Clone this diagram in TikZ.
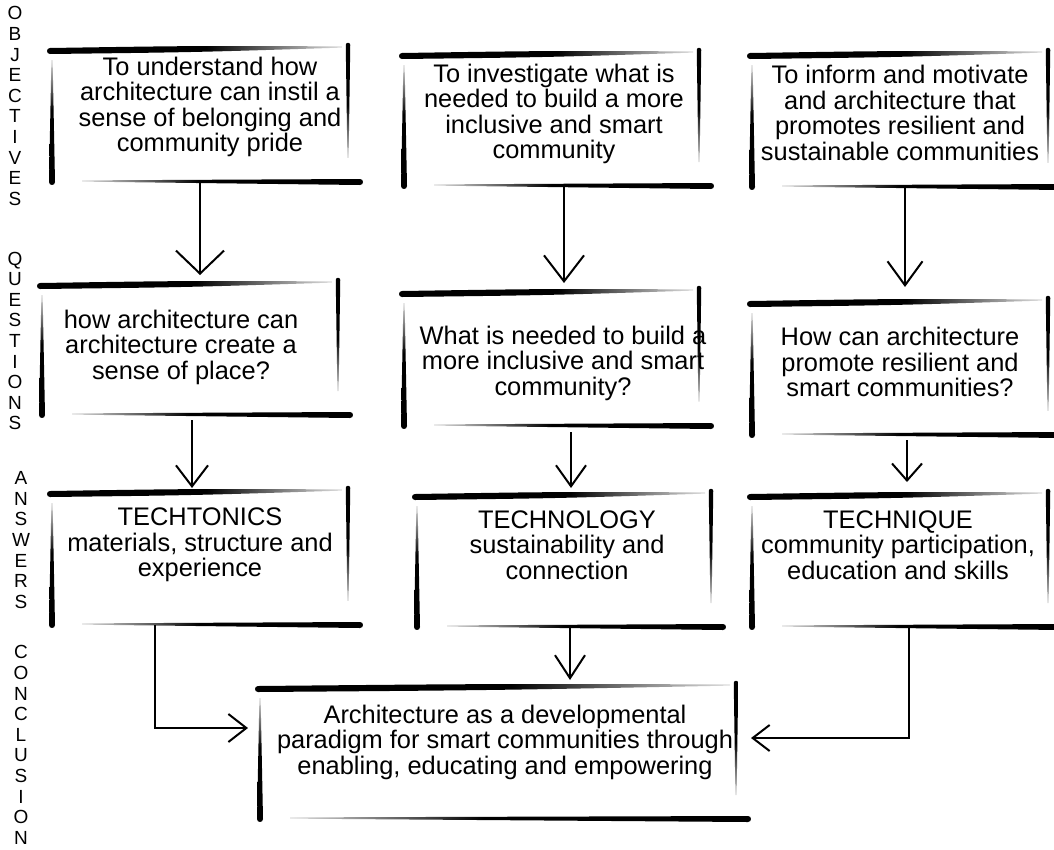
\documentclass[tikz,border=0pt]{standalone}
\usepackage{fontspec}
\setmainfont{Liberation Sans}
\usetikzlibrary{arrows.meta,calc}

\pgfdeclarehorizontalshading{fadeR}{100bp}{color(0bp)=(black); color(25bp)=(black); color(52bp)=(black); color(75bp)=(black!12); color(100bp)=(black!12)}
\pgfdeclarehorizontalshading{fadeL}{100bp}{color(0bp)=(black!12); color(25bp)=(black!12); color(46bp)=(black); color(75bp)=(black); color(100bp)=(black)}
\pgfdeclareverticalshading{fadeB}{100bp}{color(0bp)=(black!12); color(25bp)=(black!12); color(48bp)=(black); color(75bp)=(black); color(100bp)=(black)}
\pgfdeclareverticalshading{fadeT}{100bp}{color(0bp)=(black); color(25bp)=(black); color(55bp)=(black); color(75bp)=(black!12); color(100bp)=(black!12)}

% horizontal brush stroke: x1,y1,x2,y2,w1,wc,w2,shading
\newcommand{\hbr}[8]{%
 \shade[shading=#8]
  ({#1},{#2-(#5)/2})
  .. controls ({(#1+#3)/2},{(#2+#4)/2-(#6)/2}) .. ({#3},{#4-(#7)/2})
  .. controls ({#3+0.66*(#7)},{#4-(#7)/2}) and ({#3+0.66*(#7)},{#4+(#7)/2}) .. ({#3},{#4+(#7)/2})
  .. controls ({(#1+#3)/2},{(#2+#4)/2+(#6)/2}) .. ({#1},{#2+(#5)/2})
  .. controls ({#1-0.66*(#5)},{#2+(#5)/2}) and ({#1-0.66*(#5)},{#2-(#5)/2}) .. ({#1},{#2-(#5)/2}) -- cycle;}
% vertical brush stroke: x1,y1,x2,y2,w1,wc,w2,shading
\newcommand{\vbr}[8]{%
 \shade[shading=#8]
  ({#1-(#5)/2},{#2})
  .. controls ({(#1+#3)/2-(#6)/2},{(#2+#4)/2}) .. ({#3-(#7)/2},{#4})
  .. controls ({#3-(#7)/2},{#4+0.66*(#7)}) and ({#3+(#7)/2},{#4+0.66*(#7)}) .. ({#3+(#7)/2},{#4})
  .. controls ({(#1+#3)/2+(#6)/2},{(#2+#4)/2}) .. ({#1+(#5)/2},{#2})
  .. controls ({#1+(#5)/2},{#2-0.66*(#5)}) and ({#1-(#5)/2},{#2-0.66*(#5)}) .. ({#1-(#5)/2},{#2}) -- cycle;}
% sketched box: name, L, T, R, B
\newcommand{\skbox}[5]{%
 \node[boxnode, minimum width={#4-#2}, minimum height={#5-#3}] (#1) at ({(#2+#4)/2},{(#3+#5)/2}) {};
 \hbr{#2-2}{#3+3}{#4-6}{#3-1}{6}{6.5}{1.2}{fadeR}
 \vbr{#4}{#3-3}{#4}{#3+0.82*(#5-#3)}{4.5}{4.5}{1.2}{fadeB}
 \vbr{#2}{#3+12}{#2}{#5}{1.2}{5}{6}{fadeT}
 \hbr{#2+30}{#5-1}{#4+12}{#5}{1.2}{5}{6}{fadeL}
}

\begin{document}
\begin{tikzpicture}[x=1pt,y=-1pt,
  boxnode/.style={rectangle, draw=none, inner sep=0pt, outer sep=0pt},
  txt/.style={align=center, inner sep=0pt, font=\fontsize{25.4}{25.5}\selectfont},
  side/.style={align=center, inner sep=0pt, font=\fontsize{19}{20.6}\selectfont},
  conn/.style={line width=2pt, black}]
\fill[white] (0,0) rectangle (1054,849);
\useasboundingbox (0,0) rectangle (1054,849);

% side labels
\node[side] (lobj) at (15,106) {O\\B\\J\\E\\C\\T\\I\\V\\E\\S};
\node[side] (lque) at (15,341) {Q\\U\\E\\S\\T\\I\\O\\N\\S};
\node[side] (lans) at (21,540) {A\\N\\S\\W\\E\\R\\S};
\node[side] (lcon) at (21,745) {C\\O\\N\\C\\L\\U\\S\\I\\O\\N};

% boxes
\skbox{o1}{52}{48}{348}{182}
\skbox{o2}{404}{53}{699}{186}
\skbox{o3}{752}{53}{1048}{187}
\skbox{q1}{42}{283}{338}{415}
\skbox{q2}{404}{291}{699}{426}
\skbox{q3}{752}{301}{1048}{435}
\skbox{a1}{52}{491}{348}{625}
\skbox{a2}{417}{494}{711}{627}
\skbox{a3}{752}{494}{1048}{627}
\skbox{c}{260}{686}{736}{819}

% texts
\node[txt] (o1t) at (210,107) {To understand how\\architecture can instil a\\sense of belonging and\\community pride};
\node[txt] (o2t) at (554,114) {To investigate what is\\needed to build a more\\inclusive and smart\\community};
\node[txt] (o3t) at (900,113) {To inform and motivate\\and architecture that\\promotes resilient and\\sustainable communities};
\node[txt] (q1t) at (181,347) {how architecture can\\architecture create a\\sense of place?};
\node[txt] (q2t) at (563,363) {What is needed to build a\\more inclusive and smart\\community?};
\node[txt] (q3t) at (900,362) {How can architecture\\promote resilient and\\smart communities?};
\node[txt] (a1t) at (200,545) {TECHTONICS\\materials, structure and\\experience};
\node[txt] (a2t) at (567,545) {TECHNOLOGY\\sustainability and\\connection};
\node[txt] (a3t) at (898,545) {TECHNIQUE\\community participation,\\education and skills};
\node[txt] (ct) at (505,742) {Architecture as a developmental\\paradigm for smart communities through\\enabling, educating and empowering};

% connector start points
\coordinate (s1) at (o1.south);
\coordinate (s2) at ([xshift=12.5pt]o2.south);
\coordinate (s3) at ([xshift=5pt]o3.south);
\coordinate (t1) at ([xshift=2pt]q1.south);
\coordinate (t2) at ([xshift=19.5pt]q2.south);
\coordinate (t3) at ([xshift=7pt]q3.south);
\coordinate (u1) at ([xshift=-45pt]a1.south);
\coordinate (u2) at ([xshift=6pt]a2.south);
\coordinate (u3) at ([xshift=9pt]a3.south);

% connectors
\draw[conn, -{Straight Barb[length=23pt,width=48pt]}, shorten >=8pt] (s1) -- (s1 |- q1.north);
\draw[conn, -{Straight Barb[length=26pt,width=40pt]}, shorten >=8pt] (s2) -- (s2 |- q2.north);
\draw[conn, -{Straight Barb[length=24pt,width=35pt]}, shorten >=14pt] (s3) -- (s3 |- q3.north);
\draw[conn, -{Straight Barb[length=21pt,width=32pt]}, shorten <=5pt, shorten >=3pt] (t1) -- (t1 |- a1.north);
\draw[conn, -{Straight Barb[length=21pt,width=30pt]}, shorten <=6pt, shorten >=6pt] (t2) -- (t2 |- a2.north);
\draw[conn, -{Straight Barb[length=17pt,width=30pt]}, shorten <=5pt, shorten >=12pt] (t3) -- (t3 |- a3.north);
\draw[conn, -{Straight Barb[length=23pt,width=30pt]}, shorten >=6pt] (u2) -- (u2 |- c.north);
\draw[conn, -{Straight Barb[length=18pt,width=28pt]}, shorten >=12pt] (u1) |- ([yshift=24.5pt]c.west);
\draw[conn, -{Straight Barb[length=17pt,width=26pt]}, shorten >=15pt] (u3) |- ([yshift=14.5pt]c.east);
\end{tikzpicture}
\end{document}
